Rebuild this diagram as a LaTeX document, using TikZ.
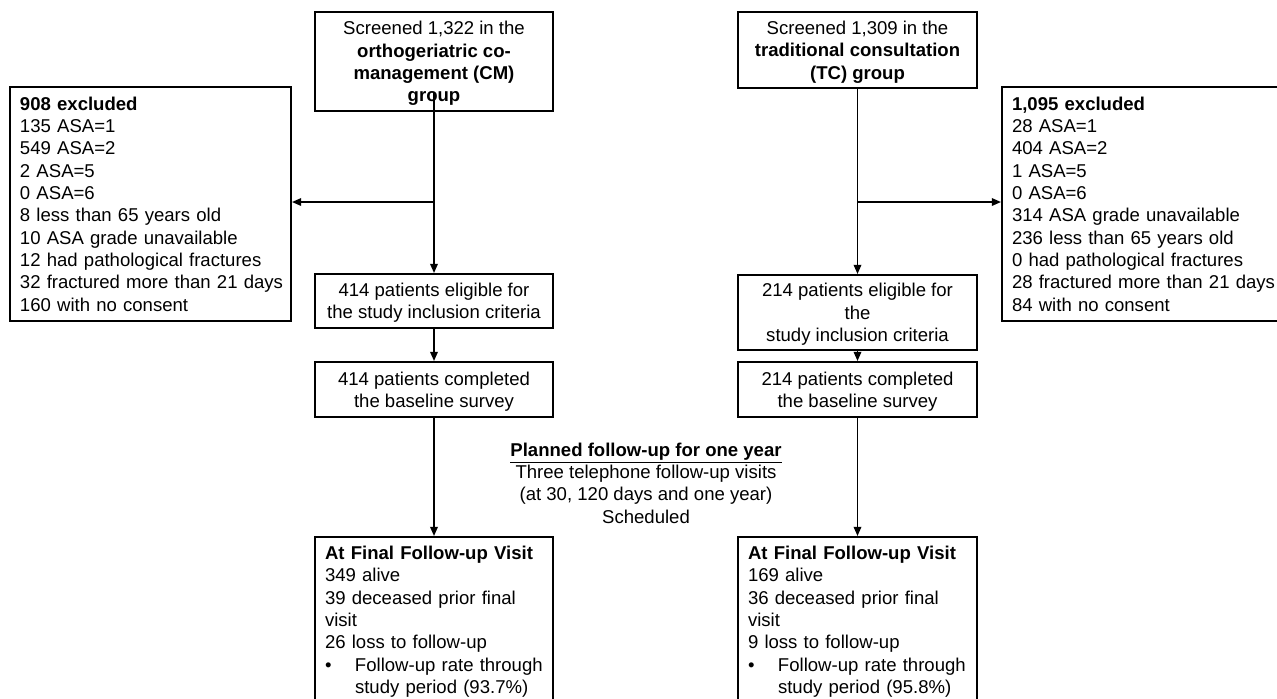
\documentclass[tikz,border=0pt]{standalone}
\usepackage{fontspec}
\setmainfont{Liberation Sans}
\usetikzlibrary{arrows.meta}

\begin{document}
\begin{tikzpicture}[x=0.25mm,y=-0.25mm,font=\fontsize{13.2}{15.9}\selectfont,
  box/.style={draw,line width=0.5mm,inner sep=0pt,text depth=0pt,align=center},
  listbox/.style={draw,line width=0.5mm,inner xsep=2.5mm,inner ysep=2.4mm,align=left,anchor=north},
  arr/.style={line width=0.4mm,-{Triangle[length=2.3mm,width=1.9mm]}}]
\useasboundingbox (0,0) rectangle (1277,698);
\clip (0,0) rectangle (1277,698);
% screened groups
\node[box,minimum width=59.5mm,minimum height=24.75mm] (cmscr) at (434,61.5)
  {Screened 1,322 in the\\{\bfseries orthogeriatric co-}\\{\bfseries management (CM)}\\{\bfseries group}};
\node[box,minimum width=59.75mm,minimum height=19mm] (tcscr) at (857.5,50)
  {Screened 1,309 in the\\{\bfseries traditional consultation}\\{\bfseries (TC) group}};
% excluded
\node[listbox,text width=65.25mm] (cmexcl) at (150.5,86)
  {{\bfseries 908 excluded}\\135 ASA=1\\549 ASA=2\\2 ASA=5\\0 ASA=6\\8 less than 65 years old\\10 ASA grade unavailable\\12 had pathological fractures\\\mbox{32 fractured more than 21 days}\\160 with no consent};
\node[listbox,text width=65.25mm] (tcexcl) at (1142.5,86)
  {{\bfseries 1,095 excluded}\\28 ASA=1\\404 ASA=2\\1 ASA=5\\0 ASA=6\\314 ASA grade unavailable\\236 less than 65 years old\\0 had pathological fractures\\\mbox{28 fractured more than 21 days}\\84 with no consent};
% eligible
\node[box,minimum width=59.5mm,minimum height=13.5mm] (cmelig) at (434,301)
  {414 patients eligible for\\the study inclusion criteria};
\node[box,minimum width=59.75mm,minimum height=18.75mm] (tcelig) at (857.5,312.5)
  {214 patients eligible for\\the\\study inclusion criteria};
% baseline
\node[box,minimum width=59.5mm,minimum height=13.75mm] (cmbase) at (434,389.5)
  {414 patients completed\\the baseline survey};
\node[box,minimum width=59.75mm,minimum height=13.75mm] (tcbase) at (857.5,389.5)
  {214 patients completed\\the baseline survey};
% follow-up plan
\node[align=center,inner sep=0pt] (plan) at (646,483)
  {\underline{\bfseries Planned follow-up for one year}\\Three telephone follow-up visits\\(at 30, 120 days and one year)\\Scheduled};
% final visit
\node[listbox,inner ysep=2.25mm,text width=54.5mm] (cmfinal) at (434,536)
  {{\bfseries At Final Follow-up Visit}\\349 alive\\39 deceased prior final\\visit\\26 loss to follow-up\\
   \makebox[7.5mm][l]{\textbullet}Follow-up rate through\\\hspace*{7.5mm}study period (93.7\%)\\[2mm]};
\node[listbox,inner ysep=2.25mm,text width=54.75mm] (tcfinal) at (857.5,536)
  {{\bfseries At Final Follow-up Visit}\\169 alive\\36 deceased prior final\\visit\\9 loss to follow-up\\
   \makebox[7.5mm][l]{\textbullet}Follow-up rate through\\\hspace*{7.5mm}study period (95.8\%)\\[2mm]};
% connectors
\coordinate (cmtop) at (434,92);
\draw[arr] (cmtop) -- (cmelig.north);
\draw[arr] (cmtop |- 0,202) -- (cmexcl.east |- 0,202);
\draw[arr] (tcscr.south) -- (tcelig.north);
\draw[arr] (tcscr.south |- 0,202) -- (tcexcl.west |- 0,202);
\draw[arr] (cmelig.south) -- (cmbase.north);
\draw[arr] (tcelig.south) -- (tcbase.north);
\draw[arr] (cmbase.south) -- (cmfinal.north);
\draw[arr] (tcbase.south) -- (tcfinal.north);
\end{tikzpicture}
\end{document}
